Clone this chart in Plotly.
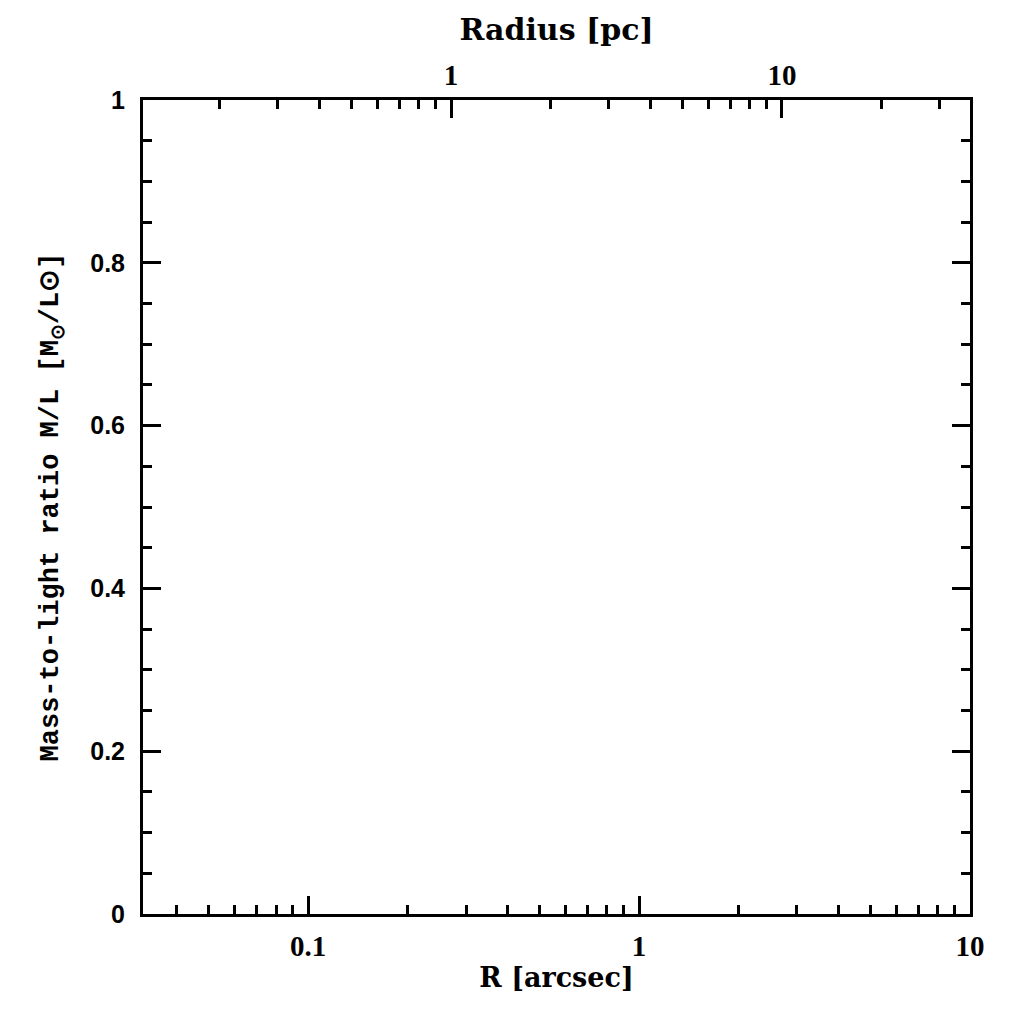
import numpy as np
import plotly.graph_objects as go

# Axis definitions (no data is plotted in the reference)
arcsec_range = [0.0317, 10.0]
pc_per_arcsec = 3.70
x_major = [0.1, 1, 10]
x_major_labels = ["0.1", "1", "10"]
x_minor = [0.04, 0.05, 0.06, 0.07, 0.08, 0.09, 0.2, 0.3, 0.4, 0.5, 0.6, 0.7, 0.8, 0.9,
           2, 3, 4, 5, 6, 7, 8, 9]
top_major = [1, 10]
top_major_labels = ["1", "10"]
top_minor = [0.2, 0.3, 0.4, 0.5, 0.6, 0.7, 0.8, 0.9, 2, 3, 4, 5, 6, 7, 8, 9, 20, 30]
y_major = [0, 0.2, 0.4, 0.6, 0.8, 1]
y_minor = [0.05, 0.1, 0.15, 0.25, 0.3, 0.35, 0.45, 0.5, 0.55, 0.65, 0.7, 0.75, 0.85, 0.9, 0.95]
y_labels = ["0", "0.2", "0.4", "0.6", "0.8", "1"]

fig = go.Figure()
fig.add_trace(go.Scatter(x=[], y=[], xaxis="x", yaxis="y", showlegend=False))
fig.add_trace(go.Scatter(x=[], y=[], xaxis="x2", yaxis="y", showlegend=False))

tick_serif = "Liberation Serif"
title_serif = "DejaVu Serif"

lo = np.log10(arcsec_range[0])
hi = np.log10(arcsec_range[1])
off = np.log10(pc_per_arcsec)

minor_style = dict(ticks="inside", ticklen=9, tickwidth=2.5, tickcolor="black", showgrid=False)

fig.update_layout(
    width=1024, height=1024,
    margin=dict(l=135, r=62, t=92, b=118),
    paper_bgcolor="white", plot_bgcolor="white",
    showlegend=False,
    xaxis=dict(
        type="log", range=[lo, hi],
        tickmode="array", tickvals=x_major, ticktext=["<b>%s</b>" % t for t in x_major_labels],
        ticks="inside", ticklen=18, tickwidth=2.5, tickcolor="black",
        minor=dict(tickmode="array", tickvals=x_minor, **minor_style),
        showline=True, linecolor="black", linewidth=3, mirror=False,
        showgrid=False, zeroline=False,
        tickfont=dict(family=tick_serif, size=29, color="black"),
        ticklabelstandoff=4,
        title=dict(text="<b>R [arcsec]</b>", font=dict(family=title_serif, size=27, color="black"),
                   standoff=4),
    ),
    xaxis2=dict(
        type="log", range=[lo + off, hi + off], overlaying="x", side="top",
        tickmode="array", tickvals=top_major, ticktext=["<b>%s</b>" % t for t in top_major_labels],
        ticks="inside", ticklen=18, tickwidth=2.5, tickcolor="black",
        minor=dict(tickmode="array", tickvals=top_minor, **minor_style),
        showline=True, linecolor="black", linewidth=3,
        showgrid=False, zeroline=False,
        tickfont=dict(family=tick_serif, size=29, color="black"),
        ticklabelstandoff=0,
        title=dict(text="<b>Radius [pc]</b>", font=dict(family=title_serif, size=30, color="black"),
                   standoff=10),
    ),
    yaxis=dict(
        range=[0, 1],
        tickmode="array", tickvals=y_major, ticktext=["<b>%s</b>" % t for t in y_labels],
        ticks="inside", ticklen=18, tickwidth=2.5, tickcolor="black",
        minor=dict(tickmode="array", tickvals=y_minor, **minor_style),
        showline=True, linecolor="black", linewidth=3, mirror="ticks",
        showgrid=False, zeroline=False,
        tickfont=dict(family="Liberation Sans", size=25, color="black"),
        ticklabelstandoff=10,
        title=dict(text="<b>Mass-to-light ratio M/L [M<sub>⊙</sub>/L⊙]</b>",
                   font=dict(family="Liberation Mono", size=27, color="black"),
                   standoff=24),
    ),
)

fig.write_html("out.html")
